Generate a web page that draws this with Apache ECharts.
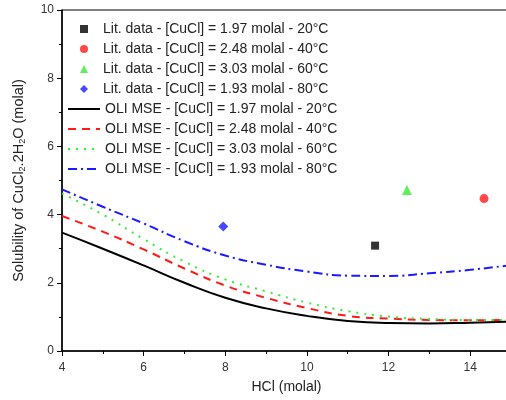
<!DOCTYPE html>
<html>
<head>
<meta charset="utf-8">
<script src="https://cdn.jsdelivr.net/npm/echarts@6/dist/echarts.min.js"></script>
<style>
  html, body { margin: 0; padding: 0; background: #fff; }
  #main { width: 506px; height: 400px; }
</style>
</head>
<body>
<div id="main"></div>
<script>
// measured points
var litNames = [
    'Lit. data - [CuCl] = 1.97 molal - 20°C',
    'Lit. data - [CuCl] = 2.48 molal - 40°C',
    'Lit. data - [CuCl] = 3.03 molal - 60°C',
    'Lit. data - [CuCl] = 1.93 molal - 80°C'
];
var litX = [11.67, 14.34, 12.45, 7.95];
var litY = [3.09, 4.47, 4.72, 3.65];

// model curves
var oliNames = [
    'OLI MSE - [CuCl] = 1.97 molal - 20°C',
    'OLI MSE - [CuCl] = 2.48 molal - 40°C',
    'OLI MSE - [CuCl] = 3.03 molal - 60°C',
    'OLI MSE - [CuCl] = 1.93 molal - 80°C'
];
var hcl = [4, 5, 6, 7, 8, 9, 10, 11, 12, 13, 14, 15];
var oli20 = [3.47, 3.0, 2.51, 2.0, 1.56, 1.25, 1.03, 0.88, 0.82, 0.81, 0.83, 0.86];
var oli40 = [3.96, 3.5, 2.98, 2.42, 1.92, 1.56, 1.26, 1.03, 0.95, 0.91, 0.90, 0.91];
var oli60 = [4.62, 4.0, 3.28, 2.62, 2.1, 1.75, 1.42, 1.17, 1.01, 0.94, 0.91, 0.91];
var oli80 = [4.74, 4.23, 3.74, 3.22, 2.80, 2.53, 2.33, 2.21, 2.20, 2.28, 2.38, 2.52];

var chartDom = document.getElementById('main');
var myChart = echarts.init(chartDom);
var option;

var font = 'Liberation Sans, Arial, sans-serif';
var colors = ['#000000', '#ff1a1a', '#33ee33', '#1a1aff'];
var symbols = ['rect', 'circle', 'triangle', 'diamond'];
var sizes = [8, 9, 10, 10];
var curves = [oli20, oli40, oli60, oli80];
var lineStyles = [
    { type: 'solid', width: 2 },
    { type: [8, 6], width: 2 },
    { type: [2, 6], width: 2 },
    { type: [9, 4, 2, 4], width: 2 }
];

var series = [];
litNames.forEach(function (name, i) {
    series.push({
        name: name,
        type: 'scatter',
        symbol: symbols[i],
        symbolSize: sizes[i],
        itemStyle: { color: colors[i] },
        data: [[litX[i], litY[i]]],
        z: 5
    });
});
oliNames.forEach(function (name, i) {
    series.push({
        name: name,
        type: 'line',
        smooth: true,
        symbol: 'none',
        lineStyle: Object.assign({ color: colors[i] }, lineStyles[i]),
        itemStyle: { color: colors[i] },
        data: hcl.map(function (x, k) { return [x, curves[i][k]]; })
    });
});

var legendText = { fontSize: 14, color: '#222', lineHeight: 14, fontFamily: font };

option = {
    animation: false,
    backgroundColor: '#fff',
    textStyle: { fontFamily: font },
    grid: {
        left: 62,
        top: 10,
        width: 449,
        height: 341,
        outerBoundsMode: 'none',
        show: true,
        borderColor: '#000',
        borderWidth: 1
    },
    legend: [
        {
            data: litNames.map(function (n, i) {
                return { name: n, icon: symbols[i] };
            }),
            orient: 'vertical',
            left: 80,
            top: 22,
            padding: 0,
            itemWidth: 8,
            itemHeight: 8,
            itemGap: 6,
            textStyle: Object.assign({ padding: [0, 0, 0, 10] }, legendText)
        },
        {
            data: oliNames,
            orient: 'vertical',
            left: 67,
            top: 102,
            padding: 0,
            itemWidth: 32,
            itemHeight: 14,
            itemGap: 6,
            itemStyle: { color: 'transparent', borderColor: 'transparent', borderWidth: 0 },
            textStyle: legendText
        }
    ],
    xAxis: {
        type: 'value',
        min: 4,
        max: 15,
        interval: 2,
        name: 'HCl (molal)',
        nameLocation: 'middle',
        nameGap: 29,
        nameTextStyle: { fontSize: 14, color: '#222' },
        axisLine: { lineStyle: { color: '#000', width: 1.5 } },
        axisTick: { length: 5, lineStyle: { color: '#000' } },
        minorTick: { show: true, splitNumber: 2, length: 3, lineStyle: { color: '#000' } },
        axisLabel: { fontSize: 12, color: '#333', margin: 11, showMaxLabel: false },
        splitLine: { show: false }
    },
    yAxis: {
        type: 'value',
        min: 0,
        max: 10,
        interval: 2,
        name: '{n|Solubility of CuCl}{s|2}{n|.2H}{s|2}{n|O (molal)}',
        nameLocation: 'middle',
        nameGap: 35,
        nameTextStyle: {
            rich: {
                n: { fontSize: 14.5, color: '#222', fontFamily: font },
                s: { fontSize: 9, color: '#222', fontFamily: font, padding: [8, 0, 0, 0] }
            }
        },
        axisLine: { lineStyle: { color: '#000', width: 1.5 } },
        axisTick: { length: 5, lineStyle: { color: '#000' } },
        minorTick: { show: true, splitNumber: 2, length: 3, lineStyle: { color: '#000' } },
        axisLabel: { fontSize: 12, color: '#333', margin: 8 },
        splitLine: { show: false }
    },
    series: series
};

option && myChart.setOption(option);
</script>
</body>
</html>
